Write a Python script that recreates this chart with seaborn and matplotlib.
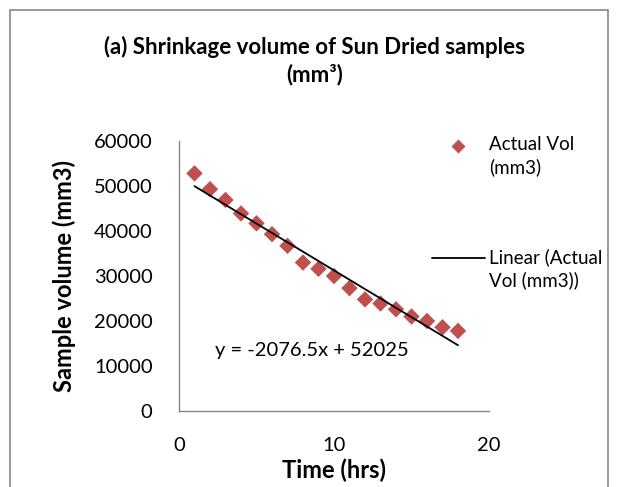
import matplotlib
matplotlib.use("Agg")
import matplotlib.pyplot as plt
import numpy as np
import pandas as pd
import seaborn as sns
from matplotlib.lines import Line2D
from matplotlib.patches import Rectangle

# data
hours = [1, 2, 3, 4, 5, 6, 7, 8, 9, 10, 11, 12, 13, 14, 15, 16, 17, 18]
actual_vol = [52800, 49300, 46900, 43900, 41700, 39300, 36700, 33000, 31600,
              30000, 27300, 24800, 23900, 22600, 21000, 20000, 18600, 17800]
y_ticks = [0, 10000, 20000, 30000, 40000, 50000, 60000]
x_ticks = [0, 10, 20]
equation = "y = -2076.5x + 52025"
point_label = "Actual Vol\n(mm3)"
trend_label = "Linear (Actual\nVol (mm3))"

RED = "#C0504D"
GREY = "#868686"

sns.set_style("white")
plt.rcParams["font.family"] = ["Lato", "DejaVu Sans"]
plt.rcParams["text.color"] = "black"
plt.rcParams["xtick.color"] = "black"
plt.rcParams["ytick.color"] = "black"
plt.rcParams["axes.labelcolor"] = "black"

df = pd.DataFrame({"Time": hours, "Vol": actual_vol})
slope, intercept = np.polyfit(df["Time"], df["Vol"], 1)
trend = pd.DataFrame({"Time": hours, "Fit": slope * df["Time"] + intercept})

W, H = 619, 487
fig = plt.figure(figsize=(W / 100, H / 100), dpi=100)
ax = fig.add_axes([179 / W, 1 - 411 / H, 310 / W, 270 / H])

sns.scatterplot(data=df, x="Time", y="Vol", marker="D", s=70, color=RED,
                edgecolor="none", ax=ax, zorder=3, legend=False)
sns.lineplot(data=trend, x="Time", y="Fit", color="black", linewidth=1.3,
             ax=ax, zorder=4, legend=False)

ax.set_xlim(0, 20)
ax.set_ylim(0, 60000)
ax.set_xticks(x_ticks)
ax.set_yticks(y_ticks)
ax.tick_params(axis="both", labelsize=14.5, length=5, width=1, color=GREY,
               labelcolor="black", direction="out", pad=14)
for side in ["top", "right"]:
    ax.spines[side].set_visible(False)
for side in ["left", "bottom"]:
    ax.spines[side].set_color(GREY)
    ax.spines[side].set_linewidth(1)

ax.set_xlabel("Time (hrs)", fontsize=17, fontweight="bold", va="center")
ax.set_ylabel("Sample volume (mm3)", fontsize=17, fontweight="bold", va="center")
ax.xaxis.set_label_coords((334 - 179) / 310, (411 - 470) / 270)
ax.yaxis.set_label_coords((64 - 179) / 310, 0.5)

ax.text(2.3, 13500, equation, fontsize=14.5, ha="left", va="center")

fig.text(315 / W, 1 - 47 / H, "(a) Shrinkage volume of Sun Dried samples",
         fontsize=16, fontweight="bold", ha="center", va="center")
fig.text(315 / W, 1 - 75 / H, "(mm³)",
         fontsize=16, fontweight="bold", ha="center", va="center")

# legend, laid out like the Excel one (handle level with the first text line)
fig.add_artist(Line2D([458 / W], [1 - 146 / H], marker="D", markersize=7,
                      color=RED, markeredgecolor="none", linestyle="none",
                      transform=fig.transFigure))
fig.text(489 / W, 1 - 136 / H, point_label, fontsize=13.5, ha="left",
         va="top", linespacing=1.35)
fig.add_artist(Line2D([432 / W, 485 / W], [1 - 258 / H, 1 - 258 / H],
                      color="black", linewidth=1.3, transform=fig.transFigure))
fig.text(489 / W, 1 - 248 / H, trend_label, fontsize=13.5, ha="left",
         va="top", linespacing=1.35)

fig.add_artist(Rectangle((10 / W, -0.05), 598 / W, 1.05 - 10 / H,
                         transform=fig.transFigure, fill=False,
                         edgecolor=GREY, linewidth=1.2))

fig.savefig("out.png", dpi=100)
